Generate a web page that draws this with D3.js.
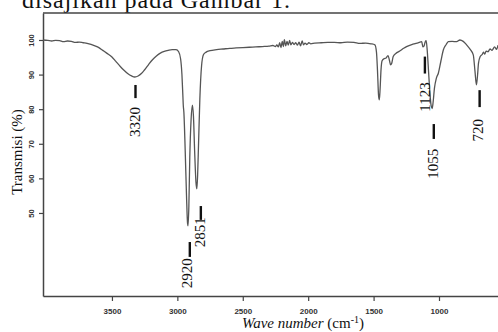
<!DOCTYPE html>
<html>
<head>
<meta charset="utf-8">
<script src="https://cdn.jsdelivr.net/npm/d3@7/dist/d3.min.js"></script>
<style>
	body { margin: 0; background: #fff; }
	svg { display: block; }
</style>
</head>
<body>
<svg id="chart" width="498" height="332"></svg>
<script>
// FTIR spectrum
var waveNumber = [
	4027, 3990, 3960, 3930, 3900, 3870, 3840, 3810, 3780, 3750, 3720, 3690, 3660, 3630, 3600,
	3570, 3540, 3500, 3470, 3440, 3410, 3380, 3350, 3325, 3300, 3275, 3250, 3220, 3190, 3160,
	3130, 3100, 3070, 3040, 3010, 2990, 2975, 2965, 2958, 2955, 2950, 2940, 2930, 2922, 2918,
	2912, 2905, 2895, 2885, 2877, 2868, 2858, 2851, 2845, 2838, 2828, 2815, 2800, 2780, 2750,
	2700, 2650, 2600, 2550, 2500, 2450, 2400, 2350, 2300, 2270, 2250, 2240, 2228, 2218, 2208,
	2198, 2190, 2182, 2172, 2162, 2152, 2142, 2132, 2120, 2108, 2095, 2082, 2070, 2058, 2046,
	2036, 2024, 2010, 1995, 1980, 1950, 1900, 1850, 1800, 1750, 1700, 1650, 1604, 1560, 1520,
	1490, 1478, 1470, 1462, 1456, 1450, 1443, 1435, 1420, 1405, 1390, 1378, 1370, 1362, 1350,
	1330, 1300, 1270, 1248, 1200, 1160, 1132, 1123, 1115, 1105, 1098, 1090, 1080, 1070, 1060,
	1052, 1045, 1035, 1020, 1005, 985, 967, 945, 929, 900, 865, 840, 815, 789, 760,
	738, 725, 714, 706, 698, 685, 670, 660, 650, 640, 625, 610, 595, 575, 560, 549
];

var transmittance = [
	100.0, 99.9, 99.7, 99.9, 99.8, 99.5, 99.7, 99.6, 99.3, 99.4, 99.2, 99.0, 98.7, 98.3, 97.8,
	97.0, 96.2, 95.1, 93.8, 92.5, 91.3, 90.3, 89.6, 89.3, 89.6, 90.3, 91.4, 92.9, 94.3, 95.4,
	96.2, 96.7, 97.0, 97.2, 97.2, 96.6, 94.5, 90.0, 84.0, 81.3, 79.0, 68.0, 55.0, 47.0, 46.3,
	52.0, 66.0, 77.0, 81.2, 78.0, 68.0, 59.0, 57.0, 61.0, 70.0, 83.0, 92.5, 95.8, 96.5, 96.9,
	97.2, 97.4, 97.6, 97.7, 97.8, 97.9, 98.0, 98.1, 98.2, 98.4, 98.1, 98.6, 98.0, 99.2, 97.8,
	99.6, 98.1, 100.1, 98.3, 99.6, 98.5, 99.9, 98.6, 99.3, 98.7, 99.2, 98.5, 99.4, 98.3, 99.7,
	98.6, 99.1, 98.7, 99.2, 98.9, 99.1, 99.2, 99.3, 99.3, 99.2, 99.4, 99.3, 99.0, 99.1, 98.9,
	98.6, 96.5, 91.0, 84.0, 82.7, 86.0, 91.5, 94.0, 94.6, 94.8, 95.5, 94.0, 92.8, 93.2, 95.2,
	96.1, 96.8, 97.6, 98.1, 98.8, 99.2, 99.5, 98.0, 98.2, 99.5, 99.8, 97.0, 91.0, 85.0, 81.0,
	80.2, 82.0, 86.0, 89.0, 90.4, 94.0, 97.1, 98.7, 99.5, 99.6, 99.5, 100.0, 99.6, 98.6, 97.2,
	95.7, 91.0, 87.0, 89.5, 93.3, 95.2, 95.8, 96.5, 95.9, 96.8, 96.6, 97.4, 97.0, 98.0, 97.3, 98.5
];

var xTicks = [3500, 3000, 2500, 2000, 1500, 1000];
var yTicks = [50, 60, 70, 80, 90, 100];

var peakWave = [3320, 2920, 2851, 1123, 1055, 720];
var peakLabels = ["3320", "2920", "2851", "1123", "1055", "720"];

var svg = d3.select("#chart");

var plot = { left: 43, right: 498, top: 13, bottom: 296 };

var x = d3.scaleLinear()
	.domain([4027, 549])
	.range([plot.left, plot.right]);

var y = d3.scaleLinear()
	.domain([26, 107.8])
	.range([plot.bottom, plot.top]);

// caption line cut off by the scan
svg.append("text")
	.attr("x", 22)
	.attr("y", 7.5)
	.attr("textLength", 268)
	.style("font-family", "'Liberation Serif', 'Times New Roman', serif")
	.style("font-size", "24px")
	.style("fill", "#111")
	.text("disajikan pada Gambar 1.");

svg.append("defs").append("clipPath")
	.attr("id", "plotClip")
	.append("rect")
	.attr("x", plot.left)
	.attr("y", plot.top)
	.attr("width", plot.right - plot.left)
	.attr("height", plot.bottom - plot.top);

// top frame line
svg.append("line")
	.attr("x1", plot.left)
	.attr("x2", plot.right)
	.attr("y1", plot.top)
	.attr("y2", plot.top)
	.style("stroke", "#444")
	.style("stroke-width", 1.5);

var xAxis = svg.append("g")
	.attr("transform", "translate(0," + plot.bottom + ")")
	.call(d3.axisBottom(x).tickValues(xTicks).tickFormat(d3.format("d")).tickSize(5).tickSizeOuter(0).tickPadding(7));

var yAxis = svg.append("g")
	.attr("transform", "translate(" + plot.left + ",0)")
	.call(d3.axisLeft(y).tickValues(yTicks).tickFormat(d3.format("d")).tickSize(4).tickSizeOuter(0));

xAxis.select(".domain").style("stroke", "#444").style("stroke-width", 1.5);
yAxis.select(".domain").style("stroke", "#444").style("stroke-width", 1.5);
xAxis.selectAll(".tick line").style("stroke", "#444").style("stroke-width", 1.2);
yAxis.selectAll(".tick line").style("stroke", "#444").style("stroke-width", 1.2);

xAxis.selectAll(".tick text")
	.style("font-family", "'Liberation Sans', Arial, sans-serif")
	.style("font-size", "8px")
	.style("font-weight", "bold")
	.style("fill", "#333");

// y tick labels are printed sideways
yAxis.selectAll(".tick text")
	.attr("x", null)
	.attr("dy", null)
	.attr("text-anchor", "middle")
	.attr("dominant-baseline", "central")
	.attr("transform", "translate(-11.5,0) rotate(-90)")
	.style("font-family", "'Liberation Sans', Arial, sans-serif")
	.style("font-size", "7.5px")
	.style("font-weight", "bold")
	.style("fill", "#333");

var points = waveNumber.map((d, i) => {
	return [d, transmittance[i]];
});

var line = d3.line()
	.x((d) => { return x(d[0]); })
	.y((d) => { return y(d[1]); })
	.curve(d3.curveMonotoneX);

svg.append("path")
	.datum(points)
	.attr("clip-path", "url(#plotClip)")
	.attr("d", line)
	.style("fill", "none")
	.style("stroke", "#555")
	.style("stroke-width", 1.3)
	.style("stroke-linejoin", "round");

// where each peak mark sits: bar ends and label centre (in % units), small pixel nudges
var markLayout = [
	{ barTop: 87.0, barBottom: 83.2, textMid: 76.3, barDx: 0, textDx: 0 },
	{ barTop: 41.6, barBottom: 37.3, textMid: 32.6, barDx: 2, textDx: -1 },
	{ barTop: 52.0, barBottom: 48.0, textMid: 44.4, barDx: 4, textDx: 3 },
	{ barTop: 95.2, barBottom: 90.3, textMid: 83.5, barDx: 2, textDx: 2 },
	{ barTop: 75.7, barBottom: 71.4, textMid: 64.2, barDx: 2, textDx: 1 },
	{ barTop: 85.5, barBottom: 80.6, textMid: 73.9, barDx: 4, textDx: 2 }
];

var marks = svg.selectAll(".peakMark")
	.data(peakWave)
	.enter().append("g")
	.attr("class", "peakMark");

marks.append("line")
	.attr("x1", (d, i) => { return x(d) + markLayout[i].barDx; })
	.attr("x2", (d, i) => { return x(d) + markLayout[i].barDx; })
	.attr("y1", (d, i) => { return y(markLayout[i].barTop); })
	.attr("y2", (d, i) => { return y(markLayout[i].barBottom); })
	.style("stroke", "#111")
	.style("stroke-width", 2.4);

marks.append("text")
	.attr("text-anchor", "middle")
	.attr("dominant-baseline", "central")
	.attr("transform", (d, i) => {
		return "translate(" + (x(d) + markLayout[i].textDx) + "," + y(markLayout[i].textMid) + ") rotate(-90)";
	})
	.style("font-family", "'Liberation Serif', 'Times New Roman', serif")
	.style("font-size", "15px")
	.style("fill", "#111")
	.text((d, i) => { return peakLabels[i]; });

// axis titles
svg.append("text")
	.attr("text-anchor", "middle")
	.attr("transform", "translate(22,152) rotate(-90)")
	.style("font-family", "'Liberation Serif', 'Times New Roman', serif")
	.style("font-size", "15px")
	.style("fill", "#111")
	.text("Transmisi (%)");

var xTitle = svg.append("text")
	.attr("x", 303)
	.attr("y", 328)
	.attr("text-anchor", "middle")
	.style("font-family", "'Liberation Serif', 'Times New Roman', serif")
	.style("font-size", "15px")
	.style("fill", "#111");

xTitle.append("tspan")
	.style("font-style", "italic")
	.text("Wave number");
xTitle.append("tspan")
	.text(" (cm");
xTitle.append("tspan")
	.attr("dy", -5)
	.style("font-size", "10px")
	.text("-1");
xTitle.append("tspan")
	.attr("dy", 5)
	.text(")");
</script>
</body>
</html>
